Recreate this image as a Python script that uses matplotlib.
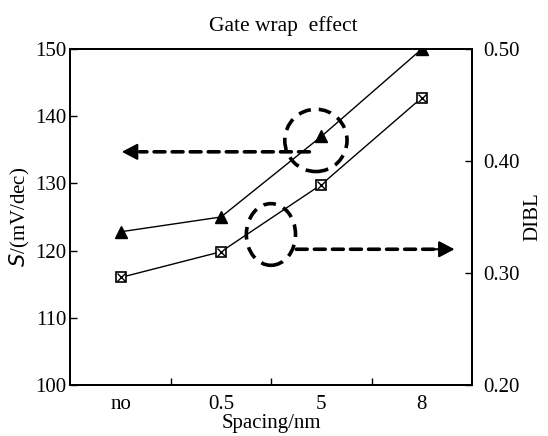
import numpy as np
import matplotlib.pyplot as plt
from matplotlib.patches import Ellipse

plt.rcParams['font.family'] = ['Liberation Serif', 'DejaVu Serif']

# data
spacing = ["no", "0.5", "5", "8"]
s_values = [122.8, 125.0, 137.0, 150.0]       # S / (mV/dec), triangles
dibl_values = [0.296, 0.319, 0.379, 0.4565]   # DIBL, boxed crosses

xpos = np.arange(len(spacing)) + 0.5

fig = plt.figure(figsize=(5.48, 4.36), dpi=100)
ax = fig.add_axes([0.1286, 0.117, 0.7327, 0.7706])
ax2 = ax.twinx()

ax.plot(xpos, s_values, color='black', lw=1.0, marker='^', ms=9,
        mfc='black', mec='black', zorder=3)
ax2.plot(xpos, dibl_values, color='black', lw=1.0, marker='s', ms=7,
         mfc='white', mec='black', mew=1.2, zorder=3)
ax2.plot(xpos, dibl_values, ls='none', marker='x', ms=6, mec='black',
         mew=1.0, zorder=4)

ax.set_xlim(0, 4)
ax.set_ylim(100, 150)
ax2.set_ylim(0.20, 0.50)

ax.set_xticks(xpos)
ax.set_xticklabels(spacing, fontsize=15)
ax.set_xticks([1, 2, 3], minor=True)
ax.tick_params(axis='x', which='major', length=0, pad=7)
ax.tick_params(axis='x', which='minor', direction='in', length=5, width=1)
ax.set_yticks([100, 110, 120, 130, 140, 150])
ax.tick_params(axis='y', direction='in', length=5, width=1, labelsize=15,
               pad=3)
ax2.set_yticks([0.20, 0.30, 0.40, 0.50])
ax2.set_yticklabels(["0.20", "0.30", "0.40", "0.50"])
ax2.tick_params(axis='y', direction='in', length=5, width=1, labelsize=15,
                pad=8)

for a in (ax, ax2):
    for sp in a.spines.values():
        sp.set_linewidth(1.3)

ax.set_xlabel("Spacing/nm", fontsize=15, labelpad=0)
ax.set_ylabel("$S$/(mV/dec)", fontsize=15, labelpad=2)
ax2.set_ylabel("DIBL", fontsize=15, labelpad=3)
ax.set_title("Gate wrap  effect", fontsize=15.5, pad=13, x=0.53)

# dashed circles and arrows
dash = (0, (3.5, 2.2))
ax.add_patch(Ellipse((2.445, 136.4), 0.62, 9.27, fill=False, ls=dash,
                     lw=2.6, ec='black', zorder=5))
ax.add_patch(Ellipse((1.997, 122.4), 0.49, 9.18, fill=False, ls=dash,
                     lw=2.6, ec='black', zorder=5))

head = dict(arrowstyle='-|>,head_length=0.95,head_width=0.5', lw=1.5,
            color='black', shrinkA=0, shrinkB=0)
line = dict(arrowstyle='-', ls=(0, (3, 2)), lw=2.6, color='black',
            shrinkA=0, shrinkB=0)
# left-pointing arrow (towards S axis)
ax.annotate("", xy=(0.69, 134.7), xytext=(2.38, 134.7), arrowprops=line)
ax.annotate("", xy=(0.512, 134.7), xytext=(0.74, 134.7), arrowprops=head)
# right-pointing arrow (towards DIBL axis)
ax.annotate("", xy=(3.66, 120.2), xytext=(2.25, 120.2), arrowprops=line)
ax.annotate("", xy=(3.826, 120.2), xytext=(3.60, 120.2), arrowprops=head)

fig.savefig("out.png", dpi=100)
